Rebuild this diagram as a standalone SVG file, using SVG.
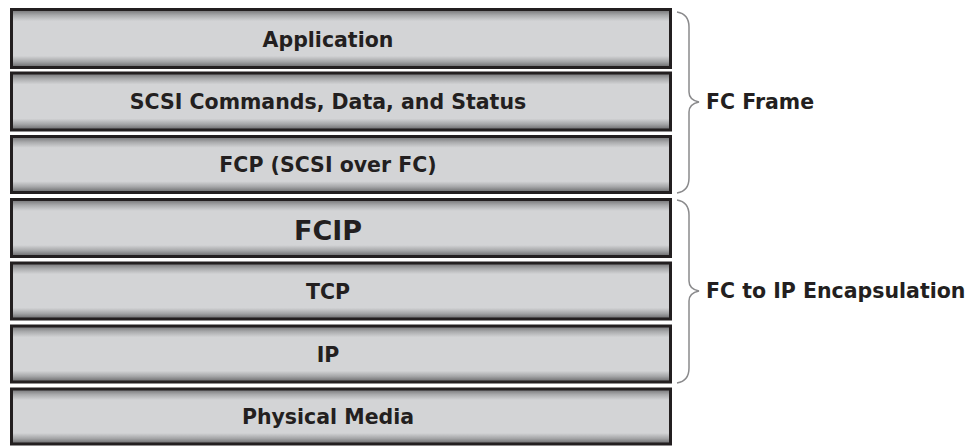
<svg xmlns="http://www.w3.org/2000/svg" width="975" height="447" viewBox="0 0 975 447">
<defs>
<linearGradient id="g" x1="0" y1="0" x2="0" y2="1">
<stop offset="0" stop-color="#6f6f71"/>
<stop offset="0.1" stop-color="#a9aaac"/>
<stop offset="0.2" stop-color="#d3d4d6"/>
<stop offset="0.8" stop-color="#d3d4d6"/>
<stop offset="0.9" stop-color="#a4a5a7"/>
<stop offset="1" stop-color="#646466"/>
</linearGradient>
<style>
.box{fill:url(#g);stroke:#231f20;stroke-width:3}
.t{font-family:"DejaVu Sans",Verdana,sans-serif;font-weight:bold;font-size:20.5px;fill:#231f20;text-anchor:middle}
.b{fill:none;stroke:#8a8a8c;stroke-width:1.5}
.l{font-family:"DejaVu Sans",Verdana,sans-serif;font-weight:bold;font-size:20.5px;fill:#231f20}
</style>
</defs>
<rect width="975" height="447" fill="#fff"/>
<g id="application"><rect class="box" x="11.5" y="9.5" width="659" height="58"/><text class="t" x="328" y="47">Application</text></g>
<g id="scsi"><rect class="box" x="11.5" y="73" width="659" height="57"/><text class="t" x="328" y="109">SCSI Commands, Data, and Status</text></g>
<g id="fcip"><rect class="box" x="11.5" y="199.5" width="659" height="57"/><text class="t" x="328" y="240" style="font-size:27px">FCIP</text></g>
<g id="fcp"><rect class="box" x="11.5" y="136.5" width="659" height="56"/><text class="t" x="328" y="172">FCP (SCSI over FC)</text></g>
<g id="tcp"><rect class="box" x="11.5" y="263" width="659" height="56"/><text class="t" x="328" y="299">TCP</text></g>
<g id="ip"><rect class="box" x="11.5" y="326" width="659" height="56"/><text class="t" x="328" y="362">IP</text></g>
<g id="physical"><rect class="box" x="11.5" y="389" width="659" height="55"/><text class="t" x="328" y="424">Physical Media</text></g>
<g id="connectors">
<path class="b" d="M677,12 Q689,14 689,27 L689,92 Q689,100 699,102 Q689,104 689,112 L689,178 Q689,191 677,193"/>
<path class="b" d="M677,200 Q689,202 689,215 L689,281 Q689,289 699,291 Q689,293 689,301 L689,368 Q689,381 677,383"/>
</g>
<g id="labels">
<text class="l" x="706" y="109">FC Frame</text>
<text class="l" x="706" y="298">FC to IP Encapsulation</text>
</g>
</svg>
